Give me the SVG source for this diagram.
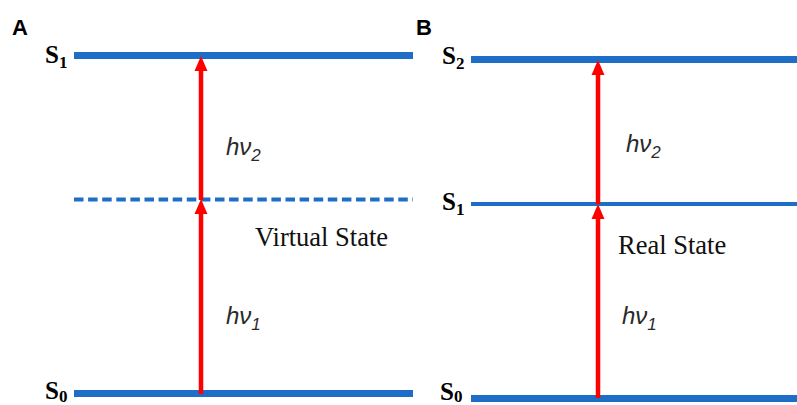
<svg xmlns="http://www.w3.org/2000/svg" width="797" height="405" viewBox="0 0 797 405">
<style>
.lvl{stroke:#1e6ec8;fill:none}
.thick{stroke-width:7}
.thin{stroke-width:4}
.dash{stroke-width:4;stroke-dasharray:9.5 4.6}
.arr{stroke:#ff0000;stroke-width:4.5;fill:none}
.head{fill:#ff0000}
.panel{font-family:"Liberation Sans",Arial,sans-serif;font-weight:bold;font-size:22px;fill:#000}
.st{font-family:"Liberation Serif","Times New Roman",serif;font-weight:bold;font-size:25px;fill:#000}
.sub{font-size:17px}
.lab{font-family:"Liberation Serif","Times New Roman",serif;font-size:26.5px;fill:#111}
.hv{font-family:"Liberation Sans",Arial,sans-serif;font-style:italic;font-size:24px;fill:#2a2a2a}
.hvs{font-size:17px}
</style>
<g id="panelA">
<text class="panel" x="12" y="35">A</text>
</g>
<g id="A_S1">
<line class="lvl thick" x1="74" y1="55.5" x2="413" y2="55.5"/>
<text class="st" x="45" y="63">S<tspan class="sub" dy="5">1</tspan></text>
</g>
<g id="A_virtual">
<line class="lvl dash" x1="74" y1="199.5" x2="413" y2="199.5"/>
<text class="lab" x="255" y="246">Virtual State</text>
</g>
<g id="A_S0">
<line class="lvl thick" x1="74" y1="393.5" x2="413" y2="393.5"/>
<text class="st" x="45" y="399">S<tspan class="sub" dy="3">0</tspan></text>
</g>
<g id="panelB">
<text class="panel" x="416" y="35">B</text>
</g>
<g id="B_S2">
<line class="lvl thick" x1="471" y1="59.5" x2="797" y2="59.5"/>
<text class="st" x="442" y="64">S<tspan class="sub" dy="5">2</tspan></text>
</g>
<g id="B_S1">
<line class="lvl thin" x1="471" y1="204" x2="797" y2="204"/>
<text class="st" x="442" y="210">S<tspan class="sub" dy="5">1</tspan></text>
<text class="lab" x="618" y="254">Real State</text>
</g>
<g id="B_S0">
<line class="lvl thick" x1="471" y1="398.5" x2="797" y2="398.5"/>
<text class="st" x="440" y="400">S<tspan class="sub" dy="2">0</tspan></text>
</g>
<g id="connectors">
<line class="arr" x1="201" y1="394" x2="201" y2="210"/>
<polygon class="head" points="201,199 194.5,214 207.5,214"/>
<line class="arr" x1="201" y1="200" x2="201" y2="66"/>
<polygon class="head" points="201,56 194.5,71 207.5,71"/>
<line class="arr" x1="598" y1="398" x2="598" y2="214"/>
<polygon class="head" points="598,204 591.5,219 604.5,219"/>
<line class="arr" x1="598" y1="204" x2="598" y2="70"/>
<polygon class="head" points="598,60 591.5,75 604.5,75"/>
</g>
<g id="labels">
<text class="hv" x="226" y="155">hν<tspan class="hvs" dy="6">2</tspan></text>
<text class="hv" x="226" y="324">hν<tspan class="hvs" dy="6">1</tspan></text>
<text class="hv" x="626" y="152">hν<tspan class="hvs" dy="6">2</tspan></text>
<text class="hv" x="622" y="324">hν<tspan class="hvs" dy="6">1</tspan></text>
</g>
</svg>
